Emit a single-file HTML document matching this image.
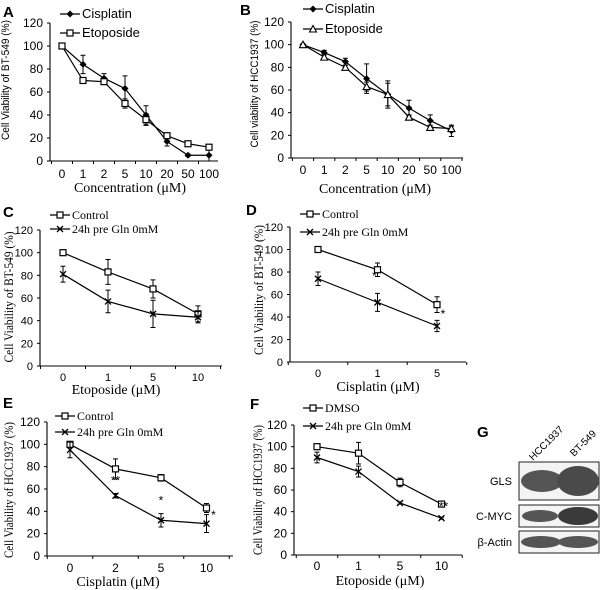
<!DOCTYPE html>
<html><head><meta charset="utf-8"><style>
html,body{margin:0;padding:0;background:#fff}
svg{display:block}
.sans{font-family:"Liberation Sans",Arial,sans-serif}
.serif{font-family:"Liberation Serif","Times New Roman",serif}
</style></head><body>
<svg id="fig" width="600" height="590" viewBox="0 0 600 590" xmlns="http://www.w3.org/2000/svg">
<g class="sans" font-weight="bold" font-size="15" fill="#000">
<text x="3" y="17">A</text>
<text x="240" y="15">B</text>
<text x="3" y="217">C</text>
<text x="246" y="215">D</text>
<text x="3" y="408">E</text>
<text x="250" y="409">F</text>
<text x="477" y="437">G</text>
</g>
<g id="blot">
<text class="sans" font-size="10" transform="translate(533,461) rotate(-45)">HCC1937</text>
<text class="sans" font-size="10" transform="translate(574,457) rotate(-45)">BT-549</text>
<rect x="519" y="462" width="80" height="38" fill="#f4f4f4" stroke="#222"/>
<ellipse cx="542" cy="481" rx="21" ry="11" fill="#555"/>
<ellipse cx="578" cy="481" rx="21" ry="15" fill="#4a4a4a"/>
<rect x="519" y="505" width="80" height="22" fill="#f4f4f4" stroke="#222"/>
<ellipse cx="540" cy="516" rx="18" ry="6" fill="#555"/>
<ellipse cx="578" cy="516" rx="20" ry="9" fill="#3a3a3a"/>
<rect x="519" y="531" width="80" height="22" fill="#f4f4f4" stroke="#222"/>
<ellipse cx="541" cy="542" rx="20" ry="6" fill="#555"/>
<ellipse cx="578" cy="542" rx="20" ry="6" fill="#555"/>
<g class="sans" font-size="11" text-anchor="end">
<text x="512" y="485">GLS</text>
<text x="512" y="520">C-MYC</text>
<text x="512" y="546">β-Actin</text>
</g>
</g>
</svg>
<script>
// Panel A
const catsA=["0","1","2","5","10","20","50","100"];
const aCis=[100,84,72,63,40,17,5,5];
const aCisErr=[0,8,4,11,8,4,1,5];
const aEto=[100,70,69,50,36,22,15,12];
const aEtoErr=[0,1,2,4,5,2,1,2];
// Panel B
const catsB=["0","1","2","5","10","20","50","100"];
const bCis=[100,93,85,70,56,44,33,24];
const bCisErr=[0,2,3,13,12,7,5,5];
const bEto=[100,89,80,63,56,36,27,26];
const bEtoErr=[0,2,2,4,10,2,2,2];
// Panel C
const catsC=["0","1","5","10"];
const cCtrl=[100,83,68,46];
const cCtrlErr=[0,11,8,7];
const cGln=[81,57,46,43];
const cGlnErr=[7,10,12,5];
// Panel D
const catsD=["0","1","5"];
const dCtrl=[100,82,51];
const dCtrlErr=[0,6,7];
const dGln=[74,53,32];
const dGlnErr=[6,8,5];
// Panel E
const catsE=["0","2","5","10"];
const eCtrl=[100,78,70,43];
const eCtrlErr=[2,9,3,4];
const eGln=[95,54,32,29];
const eGlnErr=[7,2,6,8];
// Panel F
const catsF=["0","1","5","10"];
const fCtrl=[100,94,67,47];
const fCtrlErr=[0,10,4,1];
const fGln=[90,77,48,34];
const fGlnErr=[5,5,1,1];
const yTicks=[0,20,40,60,80,100,120];

const NS="http://www.w3.org/2000/svg";
const fig=document.getElementById('fig');
function mk(tag,attrs,parent){const e=document.createElementNS(NS,tag);for(const k in attrs)e.setAttribute(k,attrs[k]);(parent||fig).appendChild(e);return e;}

function marker(g,type,x,y){
  if(type==='diamond'){return mk('path',{d:`M${x} ${y-3.5}L${x+3.5} ${y}L${x} ${y+3.5}L${x-3.5} ${y}Z`,fill:'#000'},g);}
  if(type==='square'){return mk('rect',{x:x-3,y:y-3,width:6,height:6,fill:'#fff',stroke:'#000','stroke-width':1.2},g);}
  if(type==='triangle'){return mk('path',{d:`M${x} ${y-3.5}L${x+3.5} ${y+3}L${x-3.5} ${y+3}Z`,fill:'#fff',stroke:'#000','stroke-width':1.1},g);}
  if(type==='x'){return mk('path',{d:`M${x-3} ${y-3}L${x+3} ${y+3}M${x+3} ${y-3}L${x-3} ${y+3}`,stroke:'#000','stroke-width':1.3},g);}
}

function panel(cfg){
  const g=mk('g',{});
  
  
  const ys=v=>cfg.y0-(v/120)*(cfg.y0-cfg.y120);
  const n=cfg.cats.length;
  const xs=i=>cfg.xStart+i*cfg.step;
  const ax=mk('path',{d:`M${cfg.ax} ${cfg.y120}V${cfg.y0}H${cfg.axEnd}`,stroke:'#000',fill:'none','stroke-width':1.1},g);
  
  
  yTicks.forEach(t=>{
    mk('line',{x1:cfg.ax-3,x2:cfg.ax,y1:ys(t),y2:ys(t),stroke:'#000'},g);
    const tl=mk('text',{x:cfg.ax-7,y:ys(t)+4,'text-anchor':'end','font-size':cfg.tfs,class:'sans'},g);
    tl.textContent=t;
    
    
  });
  for(let i=0;i<=n;i++){const tx=cfg.xStart-cfg.step/2+i*cfg.step;if(tx<=cfg.axEnd+1)mk('line',{x1:tx,x2:tx,y1:cfg.y0,y2:cfg.y0+3,stroke:'#000'},g);}
  cfg.cats.forEach((c,i)=>{
    const tl=mk('text',{x:xs(i),y:cfg.tickY,'text-anchor':'middle','font-size':cfg.tfs,class:'sans'},g);
    tl.textContent=c;
    
    
  });
  const xt=mk('text',{x:cfg.titleX,y:cfg.titleY,'text-anchor':'middle','font-size':14,class:'serif'},g);
  xt.textContent=cfg.xTitle;
  
  
  const yt=mk('text',{transform:`translate(${cfg.ytX},${cfg.ytY}) rotate(-90)`,'text-anchor':'middle','font-size':cfg.ytfs,class:cfg.ytClass,textLength:cfg.ytLen,lengthAdjust:'spacingAndGlyphs'},g);
  yt.textContent=cfg.yTitle;
  
  
  cfg.series.forEach((s,si)=>{
    const sg=mk('g',{},g);
    
    
    mk('path',{d:s.vals.map((v,i)=>(i?'L':'M')+xs(i)+' '+ys(v)).join(''),stroke:'#000',fill:'none','stroke-width':1.2},sg);
    s.vals.forEach((v,i)=>{
      const e=s.err[i];
      if(e>0){const x=xs(i),a=ys(v+e),b=ys(v-e);
        const eb=mk('path',{d:`M${x} ${a}V${b}M${x-2.5} ${a}H${x+2.5}M${x-2.5} ${b}H${x+2.5}`,stroke:'#000','stroke-width':1},sg);
        
        }
      const m=marker(sg,s.marker,xs(i),ys(v));
      
      
    });
    const ly=cfg.legY+si*cfg.legGap;
    const lg=mk('g',{},g);
    
    
    mk('line',{x1:cfg.legX,x2:cfg.legX+20,y1:ly,y2:ly,stroke:'#000','stroke-width':1.2},lg);
    marker(lg,s.marker,cfg.legX+10,ly);
    const lt=mk('text',{x:cfg.legX+22,y:ly+4,'font-size':cfg.lfs,class:cfg.legClass},lg);
    lt.textContent=s.label;
  });
  (cfg.stars||[]).forEach(st=>{
    const t=mk('text',{x:xs(st.i)+st.dx,y:ys(st.v),'text-anchor':'middle','font-size':12,class:'sans'},g);
    t.textContent=st.t;
    
    
  });
}

panel({name:'panel-a',cats:catsA,ax:50,axEnd:218,xStart:62,step:21,y0:161,y120:23,tickY:178,tfs:12,titleX:130,titleY:192,xTitle:'Concentration (μM)',ytX:9,ytY:80,ytLen:120,ytfs:11,ytClass:'sans',yTitle:'Cell Viability of BT-549  (%)',legX:60,legY:14,legGap:19,lfs:13,legClass:'sans',
 series:[{key:'cisplatin',label:'Cisplatin',vals:aCis,err:aCisErr,marker:'diamond'},{key:'etoposide',label:'Etoposide',vals:aEto,err:aEtoErr,marker:'square'}]});
panel({name:'panel-b',cats:catsB,ax:291,axEnd:463,xStart:303,step:21.2,y0:158,y120:22,tickY:174,tfs:12,titleX:375,titleY:193,xTitle:'Concentration (μM)',ytX:258,ytY:84,ytLen:127,ytfs:11,ytClass:'sans',yTitle:'Cell viability of HCC1937  (%)',legX:303,legY:9,legGap:20,lfs:13,legClass:'sans',
 series:[{key:'cisplatin',label:'Cisplatin',vals:bCis,err:bCisErr,marker:'diamond'},{key:'etoposide',label:'Etoposide',vals:bEto,err:bEtoErr,marker:'triangle'}]});
panel({name:'panel-c',cats:catsC,ax:40,axEnd:222,xStart:63,step:45,y0:366,y120:230,tickY:381,tfs:11,titleX:116,titleY:394,xTitle:'Etoposide (μM)',ytX:13,ytY:297,ytLen:131,ytfs:13,ytClass:'serif',yTitle:'Cell Viability of BT-549  (%)',legX:50,legY:215,legGap:14,lfs:12,legClass:'serif',
 series:[{key:'control',label:'Control',vals:cCtrl,err:cCtrlErr,marker:'square'},{key:'gln0',label:'24h pre Gln 0mM',vals:cGln,err:cGlnErr,marker:'x'}]});
panel({name:'panel-d',cats:catsD,ax:290,axEnd:466,xStart:318,step:59.5,y0:362,y120:227,tickY:377,tfs:11,titleX:378,titleY:391,xTitle:'Cisplatin (μM)',ytX:263,ytY:290,ytLen:130,ytfs:13,ytClass:'serif',yTitle:'Cell Viability of BT-549  (%)',legX:300,legY:214,legGap:18,lfs:12,legClass:'serif',
 series:[{key:'control',label:'Control',vals:dCtrl,err:dCtrlErr,marker:'square'},{key:'gln0',label:'24h pre Gln 0mM',vals:dGln,err:dGlnErr,marker:'x'}],
 stars:[{i:1,v:dGln[1]+20,dx:-3,t:'*'},{i:2,v:dGln[2]+7,dx:6,t:'*'}]});
panel({name:'panel-e',cats:catsE,ax:47,axEnd:233,xStart:70,step:45.5,y0:556,y120:422,tickY:572,tfs:12,titleX:118,titleY:586,xTitle:'Cisplatin (μM)',ytX:13,ytY:490,ytLen:136,ytfs:13,ytClass:'serif',yTitle:'Cell Viability of HCC1937  (%)',legX:55,legY:416,legGap:16,lfs:12,legClass:'serif',
 series:[{key:'control',label:'Control',vals:eCtrl,err:eCtrlErr,marker:'square'},{key:'gln0',label:'24h pre Gln 0mM',vals:eGln,err:eGlnErr,marker:'x'}],
 stars:[{i:1,v:eGln[1]+10,dx:0,t:'**'},{i:2,v:eGln[2]+14,dx:0,t:'*'},{i:3,v:eGln[3]+4,dx:7,t:'*'}]});
panel({name:'panel-f',cats:catsF,ax:294,axEnd:462,xStart:317,step:41.5,y0:555,y120:425,tickY:570,tfs:12,titleX:380,titleY:585,xTitle:'Etoposide (μM)',ytX:262,ytY:490,ytLen:130,ytfs:13,ytClass:'serif',yTitle:'Cell Viability of HCC1937  (%)',legX:303,legY:408,legGap:18,lfs:12,legClass:'serif',
 series:[{key:'dmso',label:'DMSO',vals:fCtrl,err:fCtrlErr,marker:'square'},{key:'gln0',label:'24h pre Gln 0mM',vals:fGln,err:fGlnErr,marker:'x'}],
 stars:[{i:3,v:fGln[3]+7,dx:2,t:'**'}]});
</script>
</body></html>
